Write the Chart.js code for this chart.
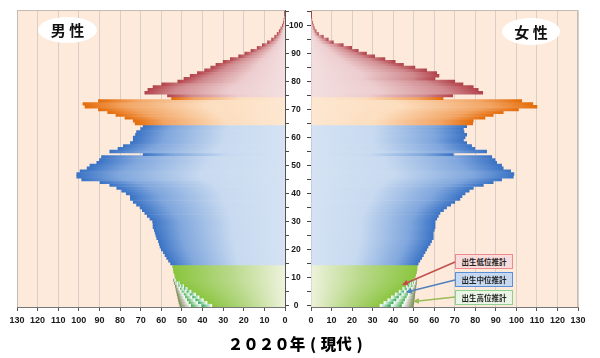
<!DOCTYPE html>
<html><head><meta charset="utf-8">
<script src="https://cdn.jsdelivr.net/npm/chart.js@4.4.0/dist/chart.umd.min.js"></script>
<style>
html,body{margin:0;padding:0;background:#fff;}
#wrap{position:relative;width:600px;height:358px;overflow:hidden;background:#fff;}
#cl{position:absolute;left:0;top:0;}
#cr{position:absolute;left:300px;top:0;}
.sex{position:absolute;border-radius:50%;background:#fff;font:bold 15px "Noto Sans CJK JP",sans-serif;text-align:center;color:#111;}
.box{position:absolute;width:56px;height:13px;font:bold 7.5px "Noto Sans CJK JP",sans-serif;text-align:center;line-height:13px;color:#222;}
#title{position:absolute;left:0;top:335px;width:595px;text-align:center;font:900 15.5px "Noto Sans CJK JP",sans-serif;line-height:16px;color:#000;white-space:nowrap;}
#title .p{display:inline-block;width:15.5px;text-align:center;}
svg{position:absolute;left:0;top:0;pointer-events:none;}
</style></head>
<body>
<div id="wrap">
<canvas id="cl" width="311" height="358"></canvas>
<canvas id="cr" width="300" height="358"></canvas>
<div class="sex" style="left:38px;top:17px;width:59px;height:26px;line-height:26px;">男 性</div>
<div class="sex" style="left:502px;top:18px;width:58px;height:27px;line-height:27px;">女 性</div>
<div class="box" style="left:455px;top:254px;border:1px solid #EE8A8A;background:#F8DCDC;">出生低位推計</div>
<div class="box" style="left:455px;top:272px;border:1px solid #5B8FD6;background:#C6D9F1;">出生中位推計</div>
<div class="box" style="left:455px;top:290px;border:1px solid #8ED08E;background:#EBF5E6;">出生高位推計</div>
<svg width="600" height="358">
<defs>
<marker id="mr" markerWidth="6" markerHeight="6" refX="5" refY="3" orient="auto" markerUnits="userSpaceOnUse"><path d="M0,0 L6,3 L0,6 z" fill="#C0504D"/></marker>
<marker id="mb" markerWidth="6" markerHeight="6" refX="5" refY="3" orient="auto" markerUnits="userSpaceOnUse"><path d="M0,0 L6,3 L0,6 z" fill="#4F81BD"/></marker>
<marker id="mg" markerWidth="6" markerHeight="6" refX="5" refY="3" orient="auto" markerUnits="userSpaceOnUse"><path d="M0,0 L6,3 L0,6 z" fill="#9BBB59"/></marker>
</defs>
<line x1="455" y1="262" x2="403" y2="284.5" stroke="#C0504D" stroke-width="1.5" marker-end="url(#mr)"/>
<line x1="455" y1="280" x2="407" y2="292" stroke="#4F81BD" stroke-width="1.5" marker-end="url(#mb)"/>
<line x1="455" y1="297" x2="414" y2="301.5" stroke="#9BBB59" stroke-width="1.5" marker-end="url(#mg)"/>
</svg>
<div id="title">２０２０年<span class="p">(</span>現代<span class="p">)</span></div>
</div>
<script>
// ---- data (unit: 10,000 persons) ----
const ages = Array.from({length:106}, (_, i) => i);
const maleValues = [
 35.5,37.8,39.6,41.7,43.4,45.6,47.5,49.2,51.3,53.0,
 53.3,53.5,54.0,54.2,54.5,55.5,56.5,57.4,58.2,59.0,
 60.0,60.6,61.0,61.4,62.2,62.6,63.0,63.4,64.0,64.0,
 64.2,65.5,66.8,68.0,69.2,70.3,72.0,73.6,75.0,75.0,
 77.0,79.2,81.6,85.0,89.7,98.6,101.0,101.0,99.4,96.0,
 94.6,91.3,90.0,89.0,68.8,85.0,81.0,78.4,75.0,73.6,
 73.6,72.5,72.0,70.0,68.8,72.7,73.6,77.6,82.0,86.0,
 90.5,97.0,98.0,90.5,55.0,57.0,68.0,66.5,64.0,59.8,
 52.0,49.0,46.0,42.5,39.0,36.0,33.5,30.0,26.5,22.5,
 19.5,16.5,13.5,11.0,8.5,6.5,5.0,3.8,2.8,2.0,
 1.3,0.8,0.5,0.3,0.2,0.1
];
const femaleValues = [
 33.6,35.5,37.4,39.2,41.0,42.9,44.7,46.5,48.3,50.0,
 50.6,51.0,51.4,51.6,51.7,52.2,53.0,53.9,54.7,55.5,
 56.3,57.0,58.0,58.7,59.5,59.5,59.5,60.0,60.4,60.4,
 60.4,61.2,62.0,62.8,64.5,66.0,68.0,70.0,72.5,73.5,
 75.0,77.0,79.0,83.9,88.7,92.8,98.5,98.8,97.2,93.6,
 92.8,90.4,89.6,88.0,69.3,85.5,79.8,78.2,75.8,74.2,
 75.0,75.8,74.5,74.2,75.8,78.7,79.0,84.7,88.7,93.6,
 101.0,110.0,108.0,102.6,64.3,69.0,83.6,81.4,79.0,74.0,
 70.0,60.4,62.3,61.2,56.3,50.6,45.0,41.0,36.0,31.0,
 27.0,23.0,19.8,15.7,10.9,8.4,6.0,3.6,2.5,1.6,
 1.1,0.7,0.4,0.25,0.15,0.1
];
// birth-projection variants, ages 0-9
const maleLow   = [40.7,42.3,43.6,45.1,46.4,47.9,49.3,50.5,52.1,53.3];
const maleMid   = [45.8,46.9,47.7,48.6,49.3,50.3,51.1,51.9,52.8,53.7];
const maleHigh  = [51.0,51.4,51.7,52.0,52.3,52.6,52.9,53.2,53.6,54.0];
const femaleLow  = [39.0,40.3,41.7,42.9,44.2,45.5,46.8,48.0,49.3,50.5];
const femaleMid  = [44.4,45.2,45.9,46.7,47.3,48.1,48.9,49.6,50.3,51.0];
const femaleHigh = [49.8,50.0,50.2,50.4,50.5,50.7,50.9,51.1,51.3,51.5];
const xTicks = [0,10,20,30,40,50,60,70,80,90,100,110,120,130];

// ---- styling ----
const GROUPS = [
 {max:15,  stops:[[0,'#EEF2DC'],[0.5,'#B7D887'],[1,'#8AC53E']]},
 {max:65,  stops:[[0,'#D4E2F3'],[0.4,'#C8DAF0'],[0.8,'#7FA6DD'],[1,'#3A73C5']]},
 {max:75,  stops:[[0,'#FDE7D1'],[0.4,'#FCDDBE'],[0.8,'#F2A463'],[1,'#E46C0A']]},
 {max:999, stops:[[0,'#F3DFE0'],[0.4,'#EDCDCF'],[0.8,'#D08A8E'],[1,'#B3434B']]}
];
function groupOf(age){ return GROUPS.find(g => age < g.max); }

function gradFill(stopsFor){
  return function(c){
    const chart = c.chart, area = chart.chartArea;
    if (c.type !== 'data' || !area || c.raw == null) return '#C8DAF0';
    const xs = chart.scales.x;
    const r = c.raw;
    const v0 = Array.isArray(r) ? r[0] : 0, v1 = Array.isArray(r) ? r[1] : r;
    const p0 = xs.getPixelForValue(v0), p1 = xs.getPixelForValue(v1);
    const stops = stopsFor(c.dataIndex);
    if (!isFinite(p0) || !isFinite(p1) || Math.abs(p1 - p0) < 0.01) return stops[stops.length-1][1];
    const g = chart.ctx.createLinearGradient(p0, 0, p1, 0);
    stops.forEach(s => g.addColorStop(s[0], s[1]));
    return g;
  };
}
const mainStops = i => groupOf(ages[i]).stops;

function floatData(from, to){
  return ages.map((a, i) => i < to.length ? [from[i], to[i]] : null);
}

const tickFont = {family:'"Liberation Sans", Arial, sans-serif', size:9, weight:'bold'};

const framePlugin = {
  id:'frame',
  beforeDraw(chart, args, opts){
    const {ctx, chartArea:a} = chart;
    ctx.save();
    ctx.fillStyle = '#FDEADA';
    ctx.fillRect(a.left, a.top, a.right - a.left, a.bottom - a.top);
    ctx.restore();
  },
  afterDraw(chart, args, opts){
    const {ctx, chartArea:a} = chart;
    ctx.save();
    ctx.strokeStyle = '#C4BCB4';
    ctx.lineWidth = 1;
    ctx.beginPath();
    const xo = opts.side === 'left' ? a.left + 0.5 : a.right - 0.5;
    ctx.moveTo(xo, a.bottom);
    ctx.lineTo(xo, a.top + 0.5);
    ctx.lineTo(opts.side === 'left' ? a.right : a.left, a.top + 0.5);
    ctx.stroke();
    ctx.restore();
  }
};

function makeChart(canvasId, side, values, low, mid, high){
  const isLeft = side === 'left';
  const common = {barPercentage:1, categoryPercentage:1, grouped:false, borderWidth:0};
  return new Chart(document.getElementById(canvasId), {
    type:'bar',
    data:{
      labels: ages,
      datasets:[
        Object.assign({data: values, backgroundColor: gradFill(mainStops), order:4}, common),
        Object.assign({data: floatData(values.slice(0,10), low), backgroundColor: gradFill(() => [[0,'#FFFFFF'],[1,'#1FA347']]), order:3}, common),
        Object.assign({data: floatData(low, mid), backgroundColor: gradFill(() => [[0,'#FFFFFF'],[1,'#3DAA4A']]), order:2}, common),
        Object.assign({data: floatData(mid, high), backgroundColor: gradFill(() => [[0,'#FFFFFF'],[1,'#7D8B5A']]), order:1}, common)
      ]
    },
    options:{
      indexAxis:'y',
      responsive:false,
      devicePixelRatio:1,
      animation:false,
      events:[],
      layout:{padding: isLeft ? {left:17, right:0, top:10, bottom:26} : {left:0, right:22, top:10, bottom:26}},
      plugins:{legend:{display:false}, tooltip:{enabled:false}, frame:{side}},
      scales:{
        x:{
          type:'linear', min:0, max:130, reverse:isLeft,
          afterBuildTicks: s => { s.ticks = xTicks.map(v => ({value:v})); },
          ticks:{font:tickFont, color:'#1a1a1a', padding:4, maxRotation:0},
          grid:{color:'#D9CFC6', lineWidth:1, tickColor:'#555', tickLength:4, drawTicks:true},
          border:{color:'#777', width:1},
          afterFit: s => { s.height = 25; }
        },
        y:{
          type:'category', position: isLeft ? 'right' : 'left', reverse:true, offset:true,
          grid:{drawOnChartArea:false, offset:false, tickLength:4,
                tickColor: c => (c.tick && c.tick.value % 5 === 0) ? '#444' : 'rgba(0,0,0,0)'},
          border:{color:'#555', width:1},
          ticks: isLeft ? {
            autoSkip:false, crossAlign:'center', padding:0, font:{family:'"Liberation Sans", Arial, sans-serif', size:8.5, weight:'bold'}, color:'#1a1a1a',
            callback: function(v){ const a = ages[v]; return a % 10 === 0 ? String(a) : ''; }
          } : {display:false},
          afterFit: s => { s.width = isLeft ? 26 : 11; }
        }
      }
    },
    plugins:[framePlugin]
  });
}

makeChart('cl', 'left', maleValues, maleLow, maleMid, maleHigh);
makeChart('cr', 'right', femaleValues, femaleLow, femaleMid, femaleHigh);
</script>
</body></html>
